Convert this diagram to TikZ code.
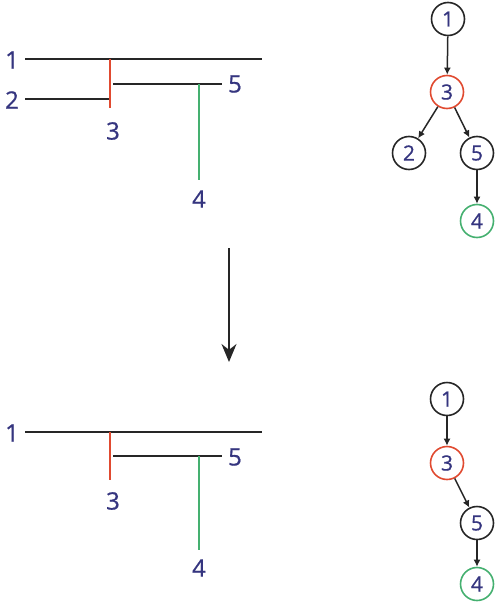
\documentclass[tikz,border=0pt]{standalone}
\usepackage{fontspec}
\setmainfont{Open Sans}
\usetikzlibrary{arrows.meta}
\definecolor{ink}{HTML}{35357F}
\definecolor{redseg}{HTML}{E04A30}
\definecolor{greenseg}{HTML}{45B070}
\tikzset{
  seg/.style={line width=1.9pt,black!85},
  lbl/.style={text=ink,font=\fontsize{24}{24}\selectfont\addfontfeature{FakeBold=0.7},inner sep=0pt},
  tnode/.style={circle,draw=black!85,line width=1.6pt,minimum size=33pt,inner sep=0pt,text=ink,font=\fontsize{21}{21}\selectfont\addfontfeature{FakeBold=0.7}},
  tedge/.style={line width=1.5pt,black!85,-{Latex[length=7pt,width=7pt]}},
}
\begin{document}
\begin{tikzpicture}[x=1pt,y=-1pt]
\useasboundingbox (0,0) rectangle (498,608);

% upper segment layout
\coordinate (a1) at (25,59);  \coordinate (b1) at (262,59);
\coordinate (a2) at (25,99);  \coordinate (b2) at (110,99);
\coordinate (a3) at (110,59); \coordinate (b3) at (110,108);
\coordinate (a5) at (113,84); \coordinate (b5) at (222,84);
\coordinate (a4) at (199,84); \coordinate (b4) at (199,180);
\draw[seg] (a1) -- (b1);
\draw[seg] (a2) -- (b2);
\draw[seg] (a5) -- (b5);
\draw[seg,redseg] (a3) -- (b3);
\draw[seg,greenseg] (a4) -- (b4);
\node[lbl] (l1) at (12,60) {1};
\node[lbl] (l2) at (12,100) {2};
\node[lbl] (l3) at (113,131) {3};
\node[lbl] (l5) at (235,84) {5};
\node[lbl] (l4) at (199,199) {4};

% upper tree
\node[tnode] (t1) at (448,19) {1};
\node[tnode,draw=redseg] (t3) at (447,92) {3};
\node[tnode] (t2) at (409,153) {2};
\node[tnode] (t5) at (477,153) {5};
\node[tnode,draw=greenseg] (t4) at (477,221) {4};
\draw[tedge] (t1) -- (t3);
\draw[tedge] (t3) -- (t2);
\draw[tedge] (t3) -- (t5);
\draw[tedge] (t5) -- (t4);

% transition arrow
\coordinate (ar0) at (229,248);
\coordinate (ar1) at (229,362);
\draw[line width=1.9pt,black!85,-{Stealth[length=18pt,width=15pt]}] (ar0) -- (ar1);

% lower segment layout
\coordinate (c1) at (25,432);  \coordinate (d1) at (262,432);
\coordinate (c3) at (110,432); \coordinate (d3) at (110,480);
\coordinate (c5) at (113,456); \coordinate (d5) at (222,456);
\coordinate (c4) at (199,456); \coordinate (d4) at (199,550);
\draw[seg] (c1) -- (d1);
\draw[seg] (c5) -- (d5);
\draw[seg,redseg] (c3) -- (d3);
\draw[seg,greenseg] (c4) -- (d4);
\node[lbl] (m1) at (12,433) {1};
\node[lbl] (m3) at (113,501) {3};
\node[lbl] (m5) at (235,457) {5};
\node[lbl] (m4) at (199,568) {4};

% lower tree
\node[tnode] (u1) at (447,399) {1};
\node[tnode,draw=redseg] (u3) at (447,463) {3};
\node[tnode] (u5) at (477,523) {5};
\node[tnode,draw=greenseg] (u4) at (477,584) {4};
\draw[tedge] (u1) -- (u3);
\draw[tedge] (u3) -- (u5);
\draw[tedge] (u5) -- (u4);
\end{tikzpicture}
\end{document}
